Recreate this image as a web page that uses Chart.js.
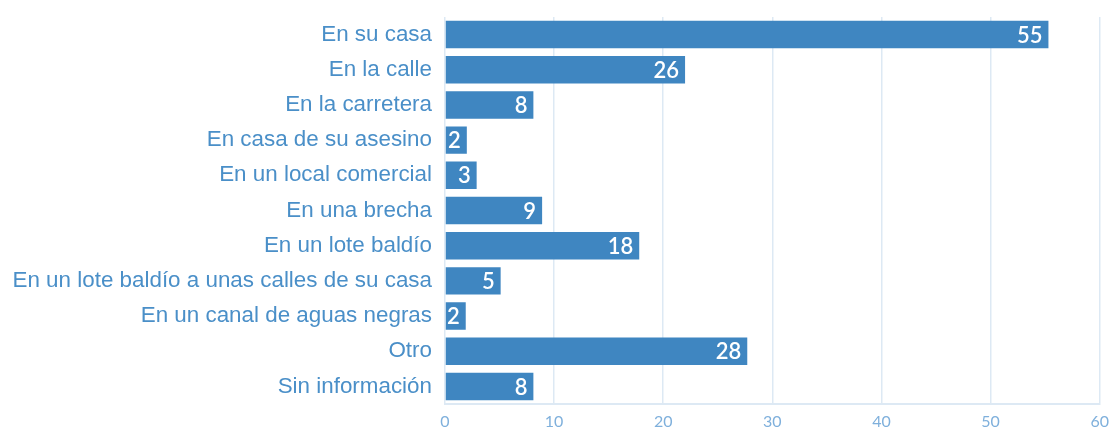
<!DOCTYPE html>
<html><head><meta charset="utf-8">
<script src="https://cdn.jsdelivr.net/npm/chart.js@4/dist/chart.umd.min.js"></script>
<style>html,body{margin:0;padding:0;background:#fff}#wrap{width:1109px;height:428px}</style>
</head><body><div id="wrap"><canvas id="c" width="1109" height="428"></canvas></div>
<script>
const categories = ["En su casa","En la calle","En la carretera","En casa de su asesino","En un local comercial","En una brecha","En un lote baldío","En un lote baldío a unas calles de su casa","En un canal de aguas negras","Otro","Sin información"];
const barValues = [55.3, 22, 8.1, 2, 2.9, 8.9, 17.8, 5.1, 1.9, 27.7, 8.1];
const valueLabels = ["55","26","8","2","3","9","18","5","2","28","8"];
const xTicks = [0,10,20,30,40,50,60];

const labelPlugin = {
  id: 'vlabels',
  afterDatasetsDraw(chart) {
    const ctx = chart.ctx;
    const meta = chart.getDatasetMeta(0);
    ctx.save();
    ctx.fillStyle = '#ffffff';
    ctx.font = '600 22px Lato';
    ctx.textAlign = 'right';
    ctx.textBaseline = 'middle';
    meta.data.forEach((bar, i) => {
      ctx.fillText(valueLabels[i], bar.x - 6, bar.y + 1);
    });
    ctx.restore();
  }
};

new Chart(document.getElementById('c'), {
  type: 'bar',
  data: { labels: categories, datasets: [{ data: barValues, backgroundColor: '#3f86c1', borderWidth: 0, categoryPercentage: 0.78, barPercentage: 1 }] },
  options: {
    indexAxis: 'y', responsive: false, animation: false,
    layout: { padding: { top: 17, right: 0, bottom: 0, left: 0 } },
    plugins: { legend: { display: false }, tooltip: { enabled: false } },
    scales: {
      x: {
        min: 0, max: 60,
        afterBuildTicks(s) { s.ticks = xTicks.map(v => ({ value: v })); },
        afterFit(s) { s.height = 24; },
        grid: { color: '#dde9f4', lineWidth: 1.5, drawTicks: true, tickLength: 8, tickColor: 'rgba(0,0,0,0)' },
        border: { color: '#dde9f4', width: 2 },
        ticks: { color: '#7fb0dc', font: { family: 'Lato', size: 16 }, padding: 0 }
      },
      y: {
        afterFit(s) { s.width = 445; },
        grid: { display: false, drawTicks: true, tickLength: 13 },
        border: { display: false },
        ticks: { color: '#4a8fc8', font: { family: 'Liberation Sans', size: 22.4 }, padding: 0, autoSkip: false }
      }
    }
  },
  plugins: [labelPlugin]
});
</script></body></html>
